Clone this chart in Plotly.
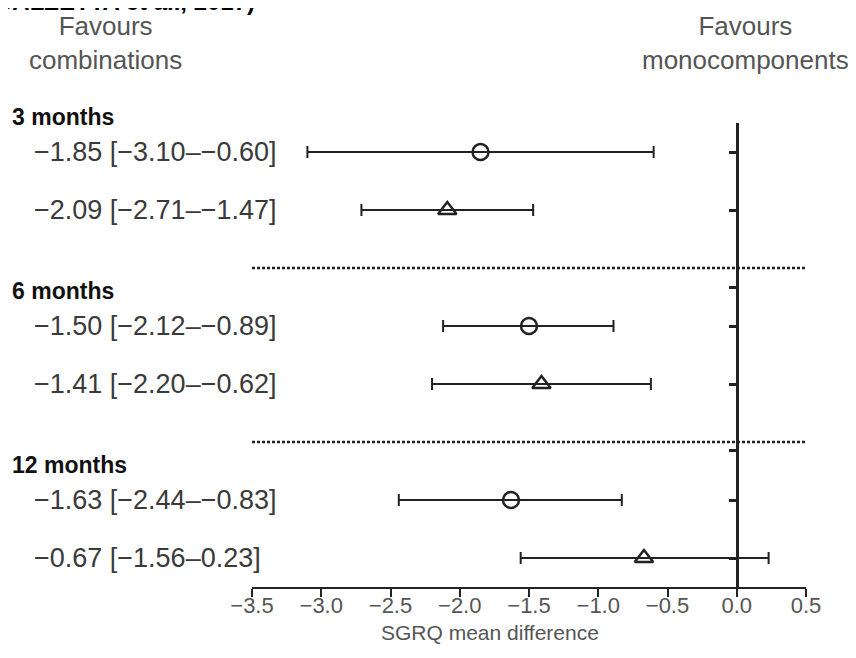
import plotly.graph_objects as go

# rows: 3 months (2), 6 months (2), 12 months (2)
row_pos = [0, 1, 3, 4, 6, 7]
means = [-1.85, -2.09, -1.50, -1.41, -1.63, -0.67]
lower = [-3.10, -2.71, -2.12, -2.20, -2.44, -1.56]
upper = [-0.60, -1.47, -0.89, -0.62, -0.83, 0.23]
symbols = ["circle-open", "triangle-up-open"] * 3
row_labels = [
    "\u22121.85 [\u22123.10\u2013\u22120.60]",
    "\u22122.09 [\u22122.71\u2013\u22121.47]",
    "\u22121.50 [\u22122.12\u2013\u22120.89]",
    "\u22121.41 [\u22122.20\u2013\u22120.62]",
    "\u22121.63 [\u22122.44\u2013\u22120.83]",
    "\u22120.67 [\u22121.56\u20130.23]",
]
groups = ["3 months", "6 months", "12 months"]
group_pos = [1.013, 0.637, 0.262]  # paper y of the headers
separators = [2, 5]
x_ticks = [-3.5, -3.0, -2.5, -2.0, -1.5, -1.0, -0.5, 0.0, 0.5]

TXT = "#3a3a3a"
LINE = "#222222"
FONT = "Arial, Liberation Sans, sans-serif"

fig = go.Figure()

fig.add_trace(go.Scatter(
    x=means,
    y=row_pos,
    mode="markers",
    marker=dict(symbol=symbols, size=16, color=LINE, line=dict(width=2.5, color=LINE)),
    error_x=dict(
        type="data",
        symmetric=False,
        array=[u - m for u, m in zip(upper, means)],
        arrayminus=[m - l for m, l in zip(means, lower)],
        color=LINE,
        thickness=2,
        width=6,
    ),
    showlegend=False,
))

# dotted separators between time points
for s in separators:
    fig.add_shape(type="line", xref="x", yref="y", x0=x_ticks[0], x1=x_ticks[-1], y0=s, y1=s,
                  line=dict(color=LINE, width=2.5, dash="3px,2px"), layer="below")

# row labels
for y, lab in zip(row_pos, row_labels):
    fig.add_annotation(x=-0.397, xref="paper", y=y, yref="y", text=lab, showarrow=False,
                       xanchor="left", yanchor="middle", font=dict(size=27, color=TXT, family=FONT))

# group headers
for y, g in zip(group_pos, groups):
    fig.add_annotation(x=-0.437, xref="paper", y=y, yref="paper", text="<b>" + g + "</b>", showarrow=False,
                       xanchor="left", yanchor="middle", font=dict(size=23, color="#111111", family=FONT))

fig.add_annotation(x=-0.265, xref="paper", y=1.172, yref="paper", text="Favours<br>combinations",
                   showarrow=False, xanchor="center", yanchor="middle", align="center",
                   font=dict(size=26, color="#555555", family=FONT))
fig.add_annotation(x=0.89, xref="paper", y=1.172, yref="paper", text="Favours<br>monocomponents",
                   showarrow=False, xanchor="center", yanchor="middle", align="center",
                   font=dict(size=26, color="#555555", family=FONT))
# source title, cut by the top edge as in the reference
fig.add_annotation(x=0.009, xref="paper", y=1.262, yref="paper", text="<b>(CALZETTA et al., 2017)</b>",
                   showarrow=False, xanchor="right", yanchor="middle",
                   font=dict(size=24, color="#000000", family=FONT))
# x axis title
fig.add_annotation(x=0.43, xref="paper", y=-0.099, yref="paper", text="SGRQ mean difference",
                   showarrow=False, xanchor="center", yanchor="middle",
                   font=dict(size=21, color="#555555", family=FONT))

fig.update_layout(
    width=848,
    height=650,
    margin=dict(l=244, r=50, t=115, b=71),
    paper_bgcolor="white",
    plot_bgcolor="white",
    font=dict(family=FONT, color=TXT),
    xaxis=dict(
        range=[-3.5, 0.5],
        tickvals=x_ticks,
        ticktext=[f"{v:.1f}".replace("-", "\u2212") for v in x_ticks],
        showgrid=False,
        zeroline=False,
        showline=True,
        linecolor=LINE,
        linewidth=2,
        ticks="outside",
        ticklen=8,
        tickwidth=2,
        tickcolor=LINE,
        ticklabelstandoff=-10,
        tickfont=dict(size=22, color="#555555"),
    ),
    yaxis=dict(
        range=[7.5, -0.5],
        anchor="free",
        position=0.8755,
        showgrid=False,
        zeroline=False,
        showline=True,
        linecolor=LINE,
        linewidth=2.5,
        ticks="outside",
        ticklen=7,
        tickwidth=2.5,
        tickcolor=LINE,
        tickvals=row_pos + [2.33, 5.15],
        showticklabels=False,
    ),
)

fig.write_html("out.html")
